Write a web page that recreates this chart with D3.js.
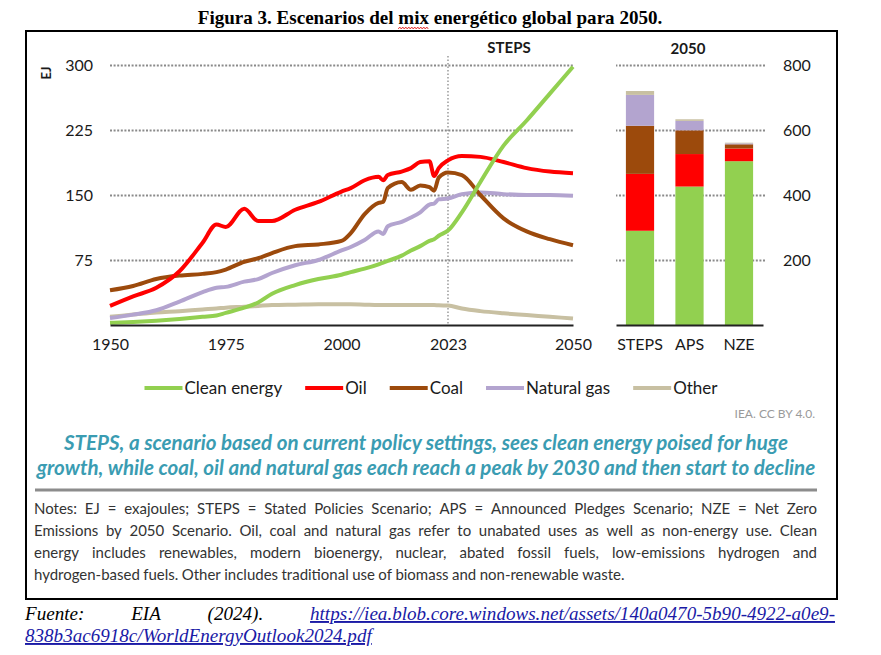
<!DOCTYPE html>
<html>
<head>
<meta charset="utf-8">
<script src="https://cdn.jsdelivr.net/npm/d3@7"></script>
<style>
  body { margin: 0; background: #fff; }
  svg { display: block; }
</style>
</head>
<body>
<script>
// Data (EJ)
const years = [1950, 1955, 1960, 1965, 1970, 1973, 1975, 1979, 1982, 1985, 1990, 1995, 2000, 2002, 2005,
  2008, 2009, 2010, 2013, 2015, 2017, 2019, 2020, 2021, 2023, 2026, 2030, 2035, 2040, 2045, 2050];
const cleanEnergy = [2.5, 3.5, 5, 7, 9.5, 11, 14, 20, 26, 36, 46, 53, 58, 61, 65,
  70, 72, 74, 80, 86, 91, 97, 99, 103, 109, 130, 165, 207, 236, 267, 298];
const oil = [22, 33, 43, 62, 95, 116, 113, 134, 120, 120, 133, 142, 154, 158, 167,
  171, 167, 173, 177, 181, 188, 189, 172, 181, 190, 195, 194, 188, 181, 177, 175];
const coal = [40, 45, 53, 57, 59, 61, 64, 73, 77, 83, 91, 93, 97, 106, 128,
  141, 142, 158, 165, 156, 161, 159, 155, 170, 176, 173, 150, 123, 108, 99, 92];
const naturalGas = [8, 12, 17, 27, 38, 43, 44, 50, 53, 60, 69, 75, 86, 90, 98,
  108, 105, 114, 119, 124, 130, 139, 140, 145, 146, 151, 153, 151, 150, 150, 149];
const other = [9.5, 12, 14.5, 16, 18, 19, 20, 21, 22, 23, 23.5, 24, 24, 24, 23.5,
  23, 23, 23, 23, 23, 23, 23, 23, 22.7, 22.5, 19, 16, 13.5, 11.5, 9.5, 7.5];

// 2050 scenarios
const scenarios = ['STEPS', 'APS', 'NZE'];
const barClean = [290, 426, 504];
const barOil = [175, 100, 39];
const barCoal = [148, 73, 13];
const barGas = [95, 29, 3];
const barOther = [12, 5, 2];

const leftTicks = [75, 150, 225, 300];
const rightTicks = [200, 400, 600, 800];
const yearTicks = [1950, 1975, 2000, 2023, 2050];

const seriesNames = ['Clean energy', 'Oil', 'Coal', 'Natural gas', 'Other'];
const seriesKeys = ['clean', 'oil', 'coal', 'gas', 'other'];
const seriesColors = ['#92d050', '#ff0000', '#9c4a0c', '#b3a4cf', '#c8c0a2'];

const notesLines = [
  'Notes: EJ = exajoules; STEPS = Stated Policies Scenario; APS = Announced Pledges Scenario; NZE = Net Zero',
  'Emissions by 2050 Scenario. Oil, coal and natural gas refer to unabated uses as well as non-energy use. Clean',
  'energy includes renewables, modern bioenergy, nuclear, abated fossil fuels, low-emissions hydrogen and',
  'hydrogen-based fuels. Other includes traditional use of biomass and non-renewable waste.'
];

const sans = 'Lato, "Open Sans", sans-serif';
const serif = '"Liberation Serif", "Times New Roman", serif';

const svg = d3.select('body')
  .append('svg')
  .attr('width', 881)
  .attr('height', 655);

svg.append('rect').attr('width', 881).attr('height', 655).attr('fill', '#fff');

// fit a text node to a target width by scaling its font size
const fitWidth = (sel, target) => {
  const w = sel.node().getComputedTextLength();
  const fs = parseFloat(sel.attr('font-size'));
  sel.attr('font-size', fs * target / w);
  return fs * target / w;
};

// Title
const title = svg.append('text')
  .attr('x', 430)
  .attr('y', 24)
  .attr('text-anchor', 'middle')
  .attr('font-family', serif)
  .attr('font-weight', 'bold')
  .attr('font-size', 16)
  .attr('fill', '#000')
  .text('Figura 3. Escenarios del mix energético global para 2050.');
fitWidth(title, 465);

// spell-check squiggle under "mix"
{
  const node = title.node();
  const i = node.textContent.indexOf('mix');
  const start = node.getStartPositionOfChar(i).x;
  const end = node.getEndPositionOfChar(i + 2).x;
  const pts = d3.range(start, end + 0.1, 1.5).map((px, k) => [px, 28 + (k % 2 ? -1 : 1)]);
  svg.append('path')
    .attr('d', d3.line()(pts))
    .attr('fill', 'none')
    .attr('stroke', '#e02020')
    .attr('stroke-width', 0.9);
}

// Frame
svg.append('rect')
  .attr('x', 26).attr('y', 31)
  .attr('width', 811).attr('height', 568)
  .attr('fill', 'none')
  .attr('stroke', '#000')
  .attr('stroke-width', 2);

// Scales
const xScale = d3.scaleLinear().domain([1950, 2050]).range([110, 573]);
const yScale = d3.scaleLinear().domain([0, 300]).range([325, 65]);
const yBar = d3.scaleLinear().domain([0, 800]).range([325, 65]);
const xBar = d3.scaleBand().domain(scenarios).range([616, 763]).paddingInner(0.43).paddingOuter(0.2);

// Left axis + grid
const yAxisGroup = svg.append('g')
  .attr('transform', `translate(${xScale(1950)},0)`)
  .call(d3.axisLeft(yScale).tickValues(leftTicks).tickSize(-(xScale(2050) - xScale(1950))).tickPadding(17));
yAxisGroup.select('.domain').remove();
yAxisGroup.selectAll('.tick line')
  .attr('stroke', '#8a8a8a')
  .attr('stroke-width', 2)
  .attr('stroke-dasharray', '2,1.6');
yAxisGroup.selectAll('.tick text')
  .attr('font-family', sans)
  .attr('font-size', 16)
  .attr('fill', '#1a1a1a');

svg.append('text')
  .attr('transform', 'translate(51,73) rotate(-90)')
  .attr('text-anchor', 'middle')
  .attr('font-family', sans)
  .attr('font-size', 13)
  .attr('font-weight', 'bold')
  .attr('fill', '#1a1a1a')
  .text('EJ');

// 2023 divider
svg.append('line')
  .attr('x1', xScale(2023)).attr('x2', xScale(2023))
  .attr('y1', 56).attr('y2', 325)
  .attr('stroke', '#8a8a8a')
  .attr('stroke-width', 1.3)
  .attr('stroke-dasharray', '1.5,2');

svg.append('text')
  .attr('x', 509).attr('y', 53)
  .attr('text-anchor', 'middle')
  .attr('font-family', sans)
  .attr('font-weight', 'bold')
  .attr('font-size', 15)
  .attr('fill', '#1a1a1a')
  .text('STEPS');

// Lines
const table = years.map((yr, i) => ({
  year: yr, clean: cleanEnergy[i], oil: oil[i], coal: coal[i], gas: naturalGas[i], other: other[i]
}));

const drawOrder = ['other', 'gas', 'coal', 'oil', 'clean'];
drawOrder.forEach(key => {
  const line = d3.line()
    .x(d => xScale(d.year))
    .y(d => yScale(d[key]))
    .curve(d3.curveMonotoneX);
  svg.append('path')
    .datum(table)
    .attr('d', line)
    .attr('fill', 'none')
    .attr('stroke', seriesColors[seriesKeys.indexOf(key)])
    .attr('stroke-width', 4)
    .attr('stroke-linejoin', 'round');
});

// Bottom axis (years)
const xAxisGroup = svg.append('g')
  .attr('transform', 'translate(0,325)')
  .call(d3.axisBottom(xScale).tickValues(yearTicks).tickSize(0).tickSizeOuter(0).tickPadding(14).tickFormat(d3.format('d')));
xAxisGroup.select('.domain').attr('stroke', '#222').attr('stroke-width', 2);
xAxisGroup.selectAll('.tick text')
  .attr('font-family', sans)
  .attr('font-size', 16)
  .attr('fill', '#1a1a1a');

// Bar chart grid + right axis
const rAxisGroup = svg.append('g')
  .attr('transform', 'translate(765,0)')
  .call(d3.axisRight(yBar).tickValues(rightTicks).tickSize(-(765 - 616)).tickPadding(18));
rAxisGroup.select('.domain').remove();
rAxisGroup.selectAll('.tick line')
  .attr('stroke', '#8a8a8a')
  .attr('stroke-width', 2)
  .attr('stroke-dasharray', '2,1.6');
rAxisGroup.selectAll('.tick text')
  .attr('font-family', sans)
  .attr('font-size', 16)
  .attr('fill', '#1a1a1a');

svg.append('text')
  .attr('x', 688).attr('y', 54)
  .attr('text-anchor', 'middle')
  .attr('font-family', sans)
  .attr('font-weight', 'bold')
  .attr('font-size', 15)
  .attr('fill', '#1a1a1a')
  .text('2050');

const barRows = scenarios.map((s, i) => ({
  scenario: s, clean: barClean[i], oil: barOil[i], coal: barCoal[i], gas: barGas[i], other: barOther[i]
}));
const stacked = d3.stack().keys(seriesKeys)(barRows);

svg.append('g')
  .selectAll('g')
  .data(stacked)
  .join('g')
  .attr('fill', d => seriesColors[seriesKeys.indexOf(d.key)])
  .selectAll('rect')
  .data(d => d)
  .join('rect')
  .attr('x', d => xBar(d.data.scenario))
  .attr('width', xBar.bandwidth())
  .attr('y', d => yBar(d[1]))
  .attr('height', d => yBar(d[0]) - yBar(d[1]));

const barAxisGroup = svg.append('g')
  .attr('transform', 'translate(0,325)')
  .call(d3.axisBottom(xBar).tickSize(0).tickSizeOuter(0).tickPadding(14));
barAxisGroup.select('.domain').attr('stroke', '#222').attr('stroke-width', 2);
barAxisGroup.selectAll('.tick text')
  .attr('font-family', sans)
  .attr('font-size', 16)
  .attr('fill', '#1a1a1a');

// Legend
const legend = svg.append('g');
let cursor = 0;
seriesNames.forEach((name, i) => {
  const item = legend.append('g').attr('transform', `translate(${cursor},0)`);
  item.append('line')
    .attr('x1', 0).attr('x2', 38)
    .attr('y1', 388).attr('y2', 388)
    .attr('stroke', seriesColors[i])
    .attr('stroke-width', 4);
  const t = item.append('text')
    .attr('x', 40).attr('y', 394)
    .attr('font-family', sans)
    .attr('font-size', 17)
    .attr('fill', '#1a1a1a')
    .text(name);
  cursor += 40 + t.node().getComputedTextLength() + 23;
});
const legendWidth = cursor - 23;
legend.attr('transform', `translate(${431 - legendWidth / 2},0)`);

svg.append('text')
  .attr('x', 815).attr('y', 418)
  .attr('text-anchor', 'end')
  .attr('font-family', sans)
  .attr('font-size', 12)
  .attr('fill', '#9a9a9a')
  .text('IEA. CC BY 4.0.');

// Highlight sentence
const teal = '#3a9cb2';
const hl2 = svg.append('text')
  .attr('x', 426).attr('y', 475)
  .attr('text-anchor', 'middle')
  .attr('font-family', sans)
  .attr('font-style', 'italic')
  .attr('font-weight', 'bold')
  .attr('font-size', 18)
  .attr('fill', teal)
  .text('growth, while coal, oil and natural gas each reach a peak by 2030 and then start to decline');
const hlSize = fitWidth(hl2, 779);
svg.append('text')
  .attr('x', 426).attr('y', 450)
  .attr('text-anchor', 'middle')
  .attr('font-family', sans)
  .attr('font-style', 'italic')
  .attr('font-weight', 'bold')
  .attr('font-size', hlSize)
  .attr('fill', teal)
  .text('STEPS, a scenario based on current policy settings, sees clean energy poised for huge');

svg.append('line')
  .attr('x1', 35).attr('x2', 817)
  .attr('y1', 490).attr('y2', 490)
  .attr('stroke', '#8c8c8c')
  .attr('stroke-width', 3);

// Justified text helper (x0/x1 in the parent's local units)
const justify = (parent, words, x0, x1, y, attrs, stretch) => {
  const nodes = words.map(w => {
    const t = parent.append('text').attr('y', y).text(w.text);
    Object.entries(attrs).forEach(([k, v]) => t.attr(k, v));
    if (w.attrs) Object.entries(w.attrs).forEach(([k, v]) => t.attr(k, v));
    return t;
  });
  const widths = nodes.map(t => t.node().getComputedTextLength());
  const total = d3.sum(widths);
  const natural = attrs['font-size'] * 0.23;
  const gap = stretch && nodes.length > 1 ? (x1 - x0 - total) / (nodes.length - 1) : natural;
  let cx = x0;
  nodes.forEach((t, i) => {
    t.attr('x', cx);
    cx += widths[i] + gap;
  });
  return nodes;
};

// Notes: Calibri-like narrow face = Lato squeezed horizontally
const notesSize = 15.5;
const probe = svg.append('text')
  .attr('font-family', sans)
  .attr('font-size', notesSize)
  .text(notesLines[3]);
const probeW = probe.node().getComputedTextLength() + (notesLines[3].split(' ').length - 1) * notesSize * 0.02;
probe.remove();
const sx = Math.min(1, 597 / probeW);

const notesGroup = svg.append('g').attr('transform', `scale(${sx},1)`);
const notesAttrs = { 'font-family': sans, 'font-size': notesSize, fill: '#333' };
notesLines.forEach((line, i) => {
  justify(notesGroup, line.split(' ').map(text => ({ text })), 34 / sx, 817 / sx, 514 + i * 22, notesAttrs, i < 3);
});

// Source
const linkBlue = '#1a1aa6';
const srcAttrs = { 'font-family': serif, 'font-style': 'italic', 'font-size': 16, fill: '#000' };
const probe2 = svg.append('text')
  .attr('font-family', serif).attr('font-style', 'italic').attr('font-size', 16)
  .text('838b3ac6918c/WorldEnergyOutlook2024.pdf');
srcAttrs['font-size'] = fitWidth(probe2, 347);
probe2.remove();

const linkAttrs = { fill: linkBlue, 'text-decoration': 'underline' };
justify(svg, [
  { text: 'Fuente:' },
  { text: 'EIA' },
  { text: '(2024).' },
  { text: 'https://iea.blob.core.windows.net/assets/140a0470-5b90-4922-a0e9-', attrs: linkAttrs }
], 25, 835, 620, srcAttrs, true);
justify(svg, [
  { text: '838b3ac6918c/WorldEnergyOutlook2024.pdf', attrs: linkAttrs }
], 25, 835, 642, srcAttrs, false);
</script>
</body>
</html>
